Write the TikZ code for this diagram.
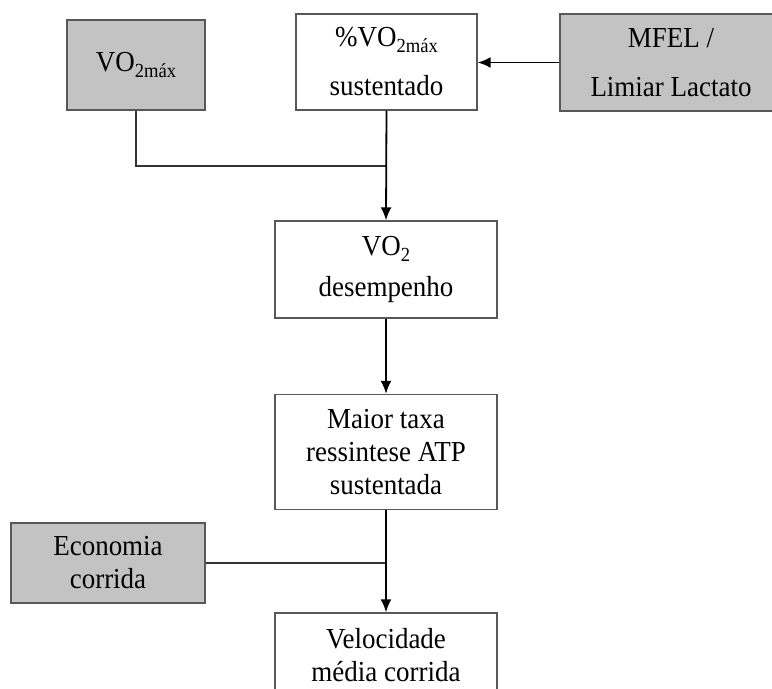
\documentclass[tikz,border=0pt]{standalone}
\usepackage{fontspec}
\setmainfont{Liberation Serif}[FakeStretch=0.93]
\usetikzlibrary{arrows.meta}
\definecolor{boxgrey}{HTML}{C3C3C3}
\definecolor{edgegrey}{HTML}{585858}
\newcommand{\lowsub}[1]{\raisebox{-0.45ex}{\fontsize{10}{10}\selectfont #1}}

\begin{document}
\begin{tikzpicture}[x=0.5pt,y=-0.5pt,
	box/.style={draw=edgegrey,line width=0.7pt,align=center,inner sep=0pt,font=\fontsize{14.5}{16.5}\selectfont},
	shaded/.style={box,fill=boxgrey},
	link/.style={line width=0.75pt,draw=black!80},
	flow/.style={line width=0.9pt,-{Latex[length=6.5pt,width=5.5pt]}}]
			\clip (0,0) rectangle (772,689);
			\fill[white] (0,0) rectangle (772,689);
			
			\node (vomax) at (136,65) [shaded,minimum width=69pt,minimum height=45pt] {VO\lowsub{2máx}};
			\node (pctvo) at (386.5,62) [box,minimum width=90.5pt,minimum height=48pt] {\%VO\lowsub{2máx}\\[8pt] sustentado};
			\node (mfel) at (671,62.5) [shaded,minimum width=111pt,minimum height=48.5pt] {MFEL /\\[8pt] Limiar Lactato};
			\node (vodes) at (386,269.5) [box,minimum width=111pt,minimum height=48.5pt] {VO\lowsub{2}\\[4pt] desempenho};
			\node (atp) at (386,452) [box,minimum width=111pt,minimum height=57.5pt] {Maior taxa\\ ressintese ATP\\ sustentada};
			\node (econ) at (108,563) [shaded,minimum width=97pt,minimum height=40pt] {Economia\\ corrida};
			\node (vel) at (386,655) [box,minimum width=111pt,minimum height=42pt] {Velocidade\\ média corrida};
			
			\coordinate (join) at (pctvo.south |- 0,166);
			
			\draw [flow] (mfel.west) -- (mfel.west -| pctvo.east);
			\draw [link] (vomax.south) |- (join);
			\draw [flow] (pctvo.south) -- (vodes.north);
			\draw [flow] (vodes.south) -- (atp.north);
			\draw [link] (econ.east) -- (econ.east -| atp.south);
			\draw [flow] (atp.south) -- (vel.north);
			
		\end{tikzpicture}
\end{document}
